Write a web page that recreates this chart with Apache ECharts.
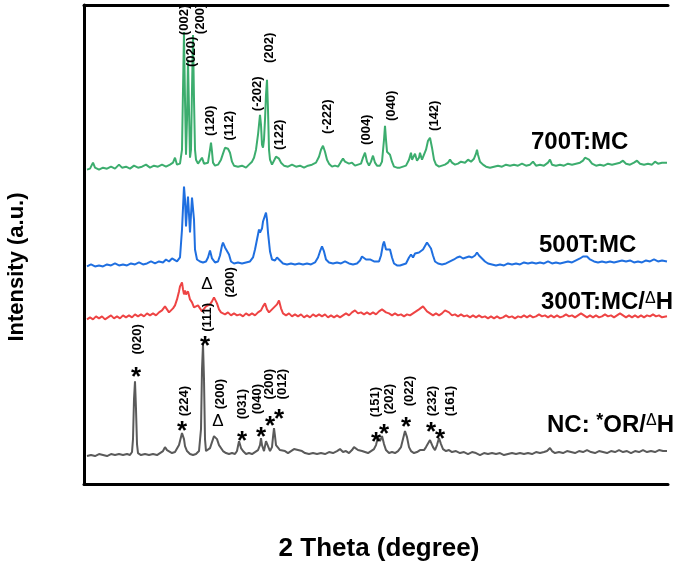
<!DOCTYPE html>
<html><head><meta charset="utf-8">
<script src="https://cdn.jsdelivr.net/npm/echarts@6/dist/echarts.min.js"></script>
<style>html,body{margin:0;padding:0;background:#fff}#c{width:685px;height:567px}</style>
</head><body><div id="c"></div>
<script>
// 2-theta range (degree) and intensity range (a.u.)
const twoThetaRange = [4.9, 63.3];
const intensityRange = [0, 480];

// [2theta, intensity] per sample
const s700 = [[5.2,315],[5.5,316],[5.8,322],[6.0,317],[6.4,315],[6.8,317],[7.2,316],[7.6,318],[8.0,316],[8.4,320],[8.7,317],[9.1,318],[9.5,316],[9.9,319],[10.3,317],[10.7,318],[11.1,320],[11.5,317],[11.9,319],[12.3,318],[12.7,320],[13.1,318],[13.5,320],[13.8,322],[14.0,327],[14.2,320],[14.5,321],[14.7,335],[14.8,395],[14.9,453],[15.0,385],[15.1,330],[15.2,365],[15.3,425],[15.4,375],[15.5,327],[15.6,335],[15.7,395],[15.8,450],[15.9,385],[16.0,335],[16.1,325],[16.3,321],[16.5,323],[16.7,327],[16.9,321],[17.1,319],[17.3,322],[17.5,335],[17.6,342],[17.7,333],[17.8,322],[18.0,319],[18.3,320],[18.6,325],[18.8,331],[19.0,337],[19.1,339],[19.3,336],[19.5,332],[19.7,323],[19.9,319],[20.3,318],[20.7,319],[21.1,317],[21.4,320],[21.7,323],[21.9,327],[22.1,335],[22.3,350],[22.5,370],[22.6,360],[22.7,340],[22.8,337],[22.9,345],[23.0,365],[23.1,390],[23.2,405],[23.3,375],[23.4,335],[23.5,325],[23.7,320],[23.9,322],[24.1,328],[24.2,330],[24.4,326],[24.6,322],[24.9,319],[25.3,318],[25.7,320],[26.1,318],[26.5,319],[26.9,317],[27.3,319],[27.7,320],[28.1,322],[28.4,328],[28.6,335],[28.8,339],[29.0,333],[29.2,325],[29.4,321],[29.7,318],[30.0,319],[30.3,318],[30.6,323],[30.8,326],[31.0,323],[31.2,324],[31.4,321],[31.7,322],[32.0,319],[32.3,320],[32.6,321],[32.8,327],[33.0,332],[33.2,323],[33.4,319],[33.6,323],[33.8,329],[34.0,322],[34.2,319],[34.5,319],[34.7,323],[34.9,345],[35.0,359],[35.1,345],[35.2,333],[35.3,335],[35.5,330],[35.7,323],[35.9,318],[36.2,317],[36.5,317],[36.8,318],[37.1,319],[37.4,325],[37.6,332],[37.7,325],[37.9,324],[38.0,331],[38.2,324],[38.4,327],[38.5,332],[38.7,325],[38.9,327],[39.1,335],[39.3,344],[39.5,347],[39.7,337],[39.9,325],[40.1,320],[40.4,318],[40.7,319],[41.0,320],[41.3,322],[41.5,325],[41.7,322],[42.0,320],[42.3,321],[42.6,323],[42.8,324],[43.0,322],[43.3,325],[43.6,323],[43.9,326],[44.1,331],[44.2,335],[44.3,330],[44.5,323],[44.8,320],[45.1,318],[45.5,317],[45.9,318],[46.3,319],[46.7,318],[47.1,320],[47.5,319],[47.9,320],[48.3,319],[48.7,321],[49.1,319],[49.5,320],[49.8,323],[50.1,319],[50.5,320],[50.9,319],[51.3,322],[51.5,325],[51.7,320],[52.1,319],[52.5,320],[52.9,319],[53.3,321],[53.7,320],[54.1,321],[54.5,322],[54.8,324],[55.0,327],[55.2,329],[55.4,325],[55.7,321],[56.1,319],[56.5,320],[56.9,319],[57.3,321],[57.7,320],[58.1,321],[58.5,322],[58.8,324],[59.1,321],[59.5,320],[59.9,322],[60.2,324],[60.5,321],[60.9,320],[61.3,321],[61.7,320],[62.0,323],[62.3,321],[62.7,322],[63.2,322]];

const s500 = [[5.2,218],[5.6,220],[6.0,218],[6.4,219],[6.8,218],[7.2,220],[7.6,219],[8.0,221],[8.4,219],[8.8,220],[9.2,219],[9.6,221],[10.0,220],[10.4,222],[10.8,220],[11.2,221],[11.6,223],[12.0,221],[12.4,223],[12.8,222],[13.1,225],[13.4,223],[13.7,226],[13.9,224],[14.2,223],[14.5,227],[14.7,255],[14.9,298],[15.0,285],[15.1,258],[15.2,275],[15.3,288],[15.4,270],[15.5,252],[15.6,270],[15.7,287],[15.8,289],[15.9,265],[16.0,235],[16.2,225],[16.5,223],[16.8,222],[17.1,223],[17.3,227],[17.5,234],[17.7,226],[18.0,222],[18.3,223],[18.5,229],[18.7,239],[18.8,242],[19.0,237],[19.2,237],[19.4,230],[19.6,223],[19.9,221],[20.3,222],[20.7,221],[21.1,222],[21.5,223],[21.8,227],[22.0,235],[22.2,245],[22.4,255],[22.5,252],[22.7,256],[22.8,263],[23.0,269],[23.1,272],[23.2,265],[23.3,252],[23.5,233],[23.7,225],[24.0,224],[24.2,227],[24.5,224],[24.8,221],[25.2,220],[25.6,221],[26.0,220],[26.4,221],[26.8,220],[27.2,221],[27.6,220],[28.0,222],[28.3,227],[28.5,233],[28.7,238],[28.9,233],[29.1,225],[29.4,222],[29.8,221],[30.2,222],[30.6,221],[31.0,223],[31.4,221],[31.8,220],[32.2,221],[32.5,224],[32.7,228],[32.9,230],[33.1,225],[33.3,223],[33.5,225],[33.7,227],[33.9,223],[34.1,221],[34.4,223],[34.6,229],[34.8,240],[34.9,243],[35.1,235],[35.3,233],[35.5,235],[35.7,227],[35.9,221],[36.2,219],[36.5,219],[36.8,220],[37.1,221],[37.4,227],[37.6,230],[37.8,227],[38.0,231],[38.2,229],[38.4,232],[38.6,231],[38.8,235],[39.0,237],[39.2,242],[39.4,244],[39.6,236],[39.8,229],[40.0,223],[40.3,221],[40.7,220],[41.1,221],[41.5,223],[41.9,225],[42.2,227],[42.5,228],[42.8,226],[43.1,227],[43.4,228],[43.7,227],[44.0,229],[44.2,232],[44.4,229],[44.7,226],[45.0,223],[45.3,221],[45.7,220],[46.1,219],[46.5,220],[46.9,219],[47.3,221],[47.7,220],[48.1,221],[48.5,220],[48.9,222],[49.3,221],[49.7,222],[50.1,221],[50.5,222],[50.9,221],[51.3,223],[51.7,221],[52.1,222],[52.5,221],[52.9,222],[53.3,223],[53.7,222],[54.1,224],[54.5,226],[54.8,228],[55.0,230],[55.2,228],[55.5,225],[55.9,223],[56.3,222],[56.7,223],[57.1,222],[57.5,223],[57.9,222],[58.3,223],[58.7,224],[59.1,223],[59.5,224],[59.9,222],[60.3,223],[60.7,222],[61.1,224],[61.5,223],[61.9,225],[62.3,223],[62.7,224],[63.2,223]];

const s300 = [[5.2,165],[5.5,167],[5.8,165],[6.1,168],[6.4,166],[6.7,168],[7.0,165],[7.3,167],[7.6,169],[7.9,166],[8.2,168],[8.5,166],[8.8,169],[9.1,167],[9.4,169],[9.7,167],[10.0,170],[10.3,168],[10.6,170],[10.9,168],[11.2,171],[11.5,169],[11.8,171],[12.1,169],[12.4,172],[12.7,174],[13.0,178],[13.2,175],[13.4,172],[13.6,174],[13.8,176],[14.0,179],[14.2,185],[14.4,193],[14.5,198],[14.6,200],[14.7,202],[14.8,195],[14.9,190],[15.0,194],[15.1,190],[15.2,188],[15.3,193],[15.4,191],[15.5,185],[15.7,182],[15.9,177],[16.1,175],[16.3,179],[16.5,176],[16.7,173],[16.9,175],[17.1,178],[17.3,177],[17.5,180],[17.7,183],[17.9,187],[18.0,188],[18.2,181],[18.4,175],[18.6,172],[18.8,173],[19.0,170],[19.3,172],[19.6,169],[19.9,171],[20.2,169],[20.5,170],[20.8,168],[21.1,171],[21.4,169],[21.7,171],[22.0,169],[22.3,172],[22.6,174],[22.8,178],[23.0,181],[23.2,175],[23.4,172],[23.6,174],[23.8,176],[24.0,175],[24.2,180],[24.4,184],[24.6,176],[24.8,171],[25.1,169],[25.4,171],[25.7,168],[26.0,170],[26.3,168],[26.6,170],[26.9,167],[27.2,169],[27.5,167],[27.8,170],[28.1,168],[28.4,170],[28.7,168],[29.0,170],[29.3,167],[29.6,169],[29.9,167],[30.2,169],[30.5,167],[30.8,169],[31.1,171],[31.4,169],[31.7,172],[32.0,174],[32.3,171],[32.6,172],[32.9,170],[33.2,172],[33.5,170],[33.8,172],[34.1,170],[34.4,173],[34.7,175],[34.9,176],[35.1,172],[35.4,171],[35.7,169],[36.0,171],[36.3,169],[36.6,170],[36.9,168],[37.2,170],[37.5,169],[37.8,171],[38.1,173],[38.4,175],[38.6,177],[38.8,178],[39.0,176],[39.2,173],[39.5,171],[39.8,169],[40.1,171],[40.4,169],[40.7,171],[41.0,174],[41.2,176],[41.4,172],[41.7,169],[42.0,170],[42.3,168],[42.6,170],[42.9,168],[43.2,169],[43.5,167],[43.8,169],[44.1,167],[44.4,169],[44.7,167],[45.0,168],[45.3,166],[45.6,168],[45.9,166],[46.2,168],[46.5,166],[46.8,167],[47.1,169],[47.4,167],[47.7,168],[48.0,166],[48.3,168],[48.6,167],[48.9,169],[49.2,167],[49.5,169],[49.8,167],[50.1,168],[50.4,170],[50.7,168],[51.0,169],[51.3,167],[51.6,169],[51.9,167],[52.2,169],[52.5,167],[52.8,168],[53.1,170],[53.4,168],[53.7,169],[54.0,167],[54.3,169],[54.6,171],[54.9,169],[55.2,167],[55.5,169],[55.8,167],[56.1,169],[56.4,167],[56.7,168],[57.0,170],[57.3,168],[57.6,169],[57.9,167],[58.2,169],[58.5,171],[58.8,169],[59.1,167],[59.4,169],[59.7,167],[60.0,169],[60.3,167],[60.6,169],[60.9,167],[61.2,169],[61.5,168],[61.8,170],[62.1,168],[62.4,169],[62.7,167],[63.2,168]];

const sNC = [[5.2,28],[5.6,29],[6.0,28],[6.4,30],[6.8,29],[7.2,28],[7.6,30],[8.0,29],[8.4,30],[8.8,29],[9.2,30],[9.5,29],[9.7,32],[9.8,45],[9.9,85],[10.0,103],[10.1,75],[10.2,40],[10.3,31],[10.6,29],[11.0,30],[11.4,29],[11.8,30],[12.2,29],[12.5,31],[12.8,33],[13.0,37],[13.2,34],[13.4,32],[13.7,31],[14.0,32],[14.2,34],[14.4,39],[14.6,47],[14.7,51],[14.9,45],[15.0,38],[15.2,33],[15.5,30],[15.8,29],[16.1,30],[16.4,33],[16.6,55],[16.7,115],[16.8,140],[16.9,105],[17.0,45],[17.1,33],[17.3,32],[17.5,36],[17.7,42],[17.9,48],[18.0,50],[18.2,45],[18.4,39],[18.6,37],[18.8,33],[19.1,31],[19.4,30],[19.7,31],[20.0,30],[20.2,33],[20.4,43],[20.6,36],[20.8,33],[21.1,30],[21.4,31],[21.7,30],[22.0,32],[22.3,34],[22.5,39],[22.6,46],[22.7,39],[22.9,33],[23.1,43],[23.2,45],[23.3,38],[23.5,33],[23.7,37],[23.8,47],[23.9,56],[24.0,48],[24.1,39],[24.3,38],[24.5,34],[24.7,36],[25.0,33],[25.3,31],[25.6,33],[25.9,35],[26.1,37],[26.3,34],[26.5,36],[26.7,33],[27.0,31],[27.4,30],[27.8,31],[28.2,30],[28.6,31],[29.0,30],[29.4,32],[29.8,31],[30.2,33],[30.5,35],[30.8,32],[31.1,33],[31.4,31],[31.7,34],[31.9,37],[32.1,38],[32.3,34],[32.5,36],[32.7,33],[33.0,32],[33.3,31],[33.6,33],[33.9,35],[34.1,39],[34.3,47],[34.5,43],[34.7,48],[34.9,40],[35.1,34],[35.4,31],[35.7,32],[36.0,31],[36.3,33],[36.6,37],[36.8,45],[37.0,53],[37.2,47],[37.4,37],[37.6,33],[37.9,31],[38.2,32],[38.5,34],[38.7,36],[38.9,34],[39.1,37],[39.3,39],[39.5,44],[39.6,45],[39.8,37],[40.0,34],[40.2,39],[40.4,46],[40.6,40],[40.8,35],[41.1,33],[41.4,34],[41.7,32],[42.1,33],[42.5,31],[42.9,32],[43.3,30],[43.7,32],[44.1,31],[44.5,29],[44.9,31],[45.3,30],[45.7,31],[46.1,30],[46.5,31],[46.9,29],[47.3,30],[47.7,31],[48.1,30],[48.5,31],[48.9,30],[49.3,31],[49.7,30],[50.1,32],[50.5,31],[50.9,32],[51.2,33],[51.5,36],[51.7,33],[52.0,31],[52.4,32],[52.8,31],[53.2,33],[53.6,32],[54.0,31],[54.4,33],[54.8,32],[55.2,34],[55.6,32],[56.0,31],[56.4,33],[56.8,32],[57.2,31],[57.6,33],[58.0,32],[58.4,34],[58.8,32],[59.2,33],[59.6,31],[60.0,33],[60.4,32],[60.8,34],[61.2,32],[61.6,33],[62.0,32],[62.4,34],[62.8,33],[63.2,33]];

// Miller-index annotations [2theta, intensity, text]
const hkl700 = [[14.9,465,'(002)'],[15.6,433,'(020)'],[16.5,466,'(200)'],[17.5,364,'(120)'],[19.4,359,'(112)'],[22.2,391,'(-202)'],[23.4,437,'(202)'],[24.4,350,'(122)'],[29.2,368,'(-222)'],[33.1,355,'(004)'],[35.6,379,'(040)'],[39.9,369,'(142)']];
const hkl300 = [[19.5,202,'(200)']];
const hklNC = [[10.2,145,'(020)'],[17.2,167,'(111)'],[14.9,83,'(224)'],[18.5,90,'(200)'],[20.7,80,'(031)'],[22.2,85,'(040)'],[23.4,100,'(200)'],[24.7,100,'(012)'],[34.0,82,'(151)'],[35.4,85,'(202)'],[37.4,93,'(022)'],[39.7,83,'(232)'],[41.5,83,'(161)']];
// phase markers: * = OR, Δ = H
const starMarks = [[10.1,112],[17.0,143],[14.7,58],[20.7,48],[22.6,52],[23.5,63],[24.4,70],[34.1,47],[34.9,55],[37.1,62],[39.6,57],[40.5,50]];
const deltaMarks = [[18.3,63],[17.2,200]];
// sample names [2theta, intensity, key]
const sampleLabels = [[49.6,342,'700'],[50.4,239,'500'],[50.6,182,'300'],[51.2,59,'NC']];

const FONT = '"Liberation Sans", Arial, Helvetica, sans-serif';
const colors = {s700:'#3cad6e', s500:'#1f6fe0', s300:'#ee4444', sNC:'#5a5a5a'};

function lineSeries(data, color){
  return {type:'line', data:data, showSymbol:false, symbol:'none', smooth:false,
    lineStyle:{color:color, width:2}, z:2, silent:true, animation:false};
}
function textSeries(items, labelOpt){
  return {type:'scatter', symbolSize:0, itemStyle:{color:'#000', opacity:1}, silent:true, z:5, animation:false,
    emphasis:{disabled:true},
    data: items.map(d=>({value:[d[0],d[1]], name: d[2]||''})),
    label: Object.assign({show:true, position:'inside', color:'#000', opacity:1, textBorderWidth:0, fontFamily:FONT}, labelOpt)};
}

const rich = {
  b:{fontFamily:FONT, fontSize:24, fontWeight:'bold', color:'#000'},
  sup:{fontFamily:FONT, fontSize:18, fontWeight:'bold', color:'#000', verticalAlign:'top', padding:[0,0,8,0]},
  d:{fontFamily:FONT, fontSize:16, fontWeight:'normal', color:'#000', verticalAlign:'top', padding:[0,0,6,0]}
};
const sampleText = {
  '700':'{b|700T:MC}',
  '500':'{b|500T:MC}',
  '300':'{b|300T:MC/}{d|Δ}{b|H}',
  'NC':'{b|NC: }{sup|*}{b|OR/}{d|Δ}{b|H}'
};

const chart = echarts.init(document.getElementById('c'), null, {renderer:'canvas'});
chart.setOption({
  backgroundColor:'#fff',
  animation:false,
  grid:{left:84, right:17, top:5, bottom:82, containLabel:false},
  xAxis:[
    {type:'value', min:twoThetaRange[0], max:twoThetaRange[1], position:'bottom',
     name:'2 Theta (degree)', nameLocation:'middle', nameGap:52,
     nameTextStyle:{fontFamily:FONT, fontSize:26, fontWeight:'bold', color:'#000', padding:[0,0,0,6]},
     axisLine:{show:true, lineStyle:{color:'#000', width:3}}, axisTick:{show:false}, axisLabel:{show:false}, splitLine:{show:false}},
    {type:'value', min:twoThetaRange[0], max:twoThetaRange[1], position:'top',
     axisLine:{show:true, lineStyle:{color:'#000', width:3}}, axisTick:{show:false}, axisLabel:{show:false}, splitLine:{show:false}}
  ],
  yAxis:{type:'value', min:intensityRange[0], max:intensityRange[1],
    axisLine:{show:true, onZero:false, lineStyle:{color:'#000', width:3}}, axisTick:{show:false}, axisLabel:{show:false}, splitLine:{show:false}},
  graphic:[{type:'text', x:17, y:267, rotation:Math.PI/2, silent:true,
    style:{text:'Intensity (a.u.)', fill:'#000', font:'bold 22px ' + FONT, align:'center', verticalAlign:'middle'}}],
  series:[
    lineSeries(sNC, colors.sNC),
    lineSeries(s300, colors.s300),
    lineSeries(s500, colors.s500),
    lineSeries(s700, colors.s700),
    textSeries(hkl700, {rotate:90, fontSize:13, fontWeight:'bold', formatter:'{b}'}),
    textSeries(hkl300, {rotate:90, fontSize:13, fontWeight:'bold', formatter:'{b}'}),
    textSeries(hklNC, {rotate:90, fontSize:13, fontWeight:'bold', formatter:'{b}'}),
    textSeries(starMarks, {fontSize:26, fontWeight:'bold', formatter:'*', offset:[0,6]}),
    textSeries(deltaMarks, {fontSize:17, formatter:'Δ'}),
    textSeries(sampleLabels, {position:'right', distance:0, formatter: p => sampleText[p.name], rich:rich})
  ]
});
</script></body></html>
